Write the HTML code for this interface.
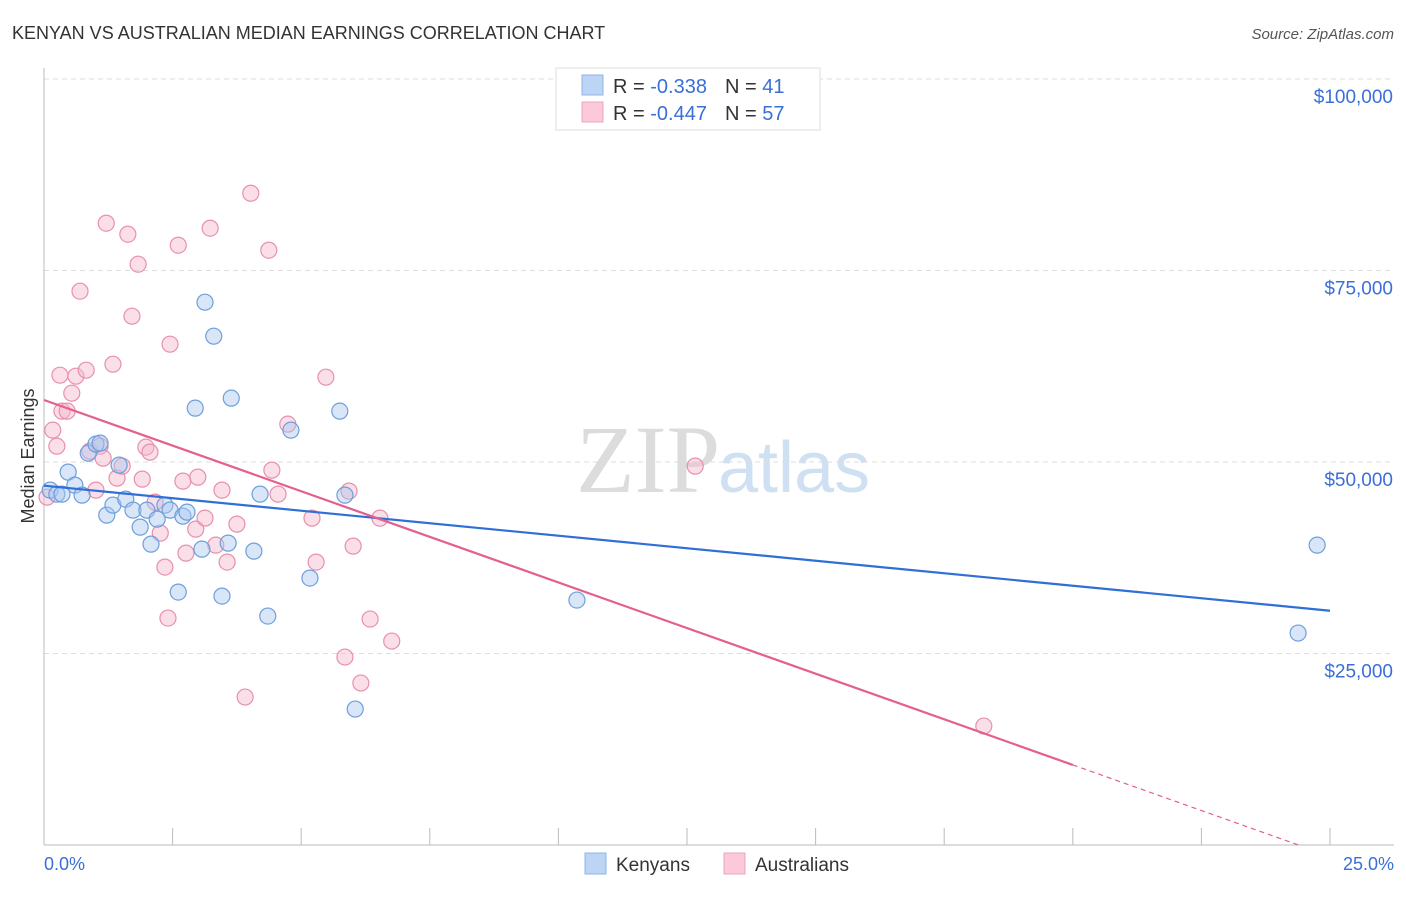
<!DOCTYPE html>
<html><head><meta charset="utf-8"><style>
body{margin:0;background:#fff;font-family:"Liberation Sans",sans-serif;}
</style></head><body>
<svg id="c" width="1406" height="892" xmlns="http://www.w3.org/2000/svg">
<text x="12" y="39" font-size="18" fill="#333">KENYAN VS AUSTRALIAN MEDIAN EARNINGS CORRELATION CHART</text>
<text x="1394" y="39" font-size="15" fill="#555" font-style="italic" text-anchor="end">Source: ZipAtlas.com</text>
<text x="720" y="492" font-size="96" fill="#dcdcdc" text-anchor="end" font-family="Liberation Serif">ZIP</text>
<text x="718" y="492" font-size="72" fill="#cfe0f3">atlas</text>
<g id="grid"></g>
<g id="pts"></g>
<g id="lines"></g>
<text transform="translate(34,456) rotate(-90)" font-size="18" fill="#333" text-anchor="middle">Median Earnings</text>
<text x="44" y="870" font-size="18" fill="#3a6fd8">0.0%</text>
<text x="1394" y="870" font-size="18" fill="#3a6fd8" text-anchor="end">25.0%</text>
<g>
<rect x="556" y="68" width="264" height="62" fill="#fff" stroke="#ddd"/>
<rect x="582" y="75" width="21" height="20" fill="#bcd5f5" stroke="#8cb4e8"/>
<rect x="582" y="102" width="21" height="20" fill="#fbc9d8" stroke="#efa3bb"/>
<text x="613" y="93" font-size="20" fill="#333">R = <tspan fill="#3a6fd8">-0.338</tspan><tspan dx="18">N = </tspan><tspan fill="#3a6fd8">41</tspan></text>
<text x="613" y="120" font-size="20" fill="#333">R = <tspan fill="#3a6fd8">-0.447</tspan><tspan dx="18">N = </tspan><tspan fill="#3a6fd8">57</tspan></text>
</g>
<g>
<rect x="585" y="853" width="21" height="21" fill="#bcd5f5" stroke="#8cb4e8"/>
<text x="616" y="871" font-size="19" fill="#333">Kenyans</text>
<rect x="724" y="853" width="21" height="21" fill="#fbc9d8" stroke="#efa3bb"/>
<text x="755" y="871" font-size="19" fill="#333">Australians</text>
</g>
</svg>
<script>
const yTicks=[25000,50000,75000,100000];
const yTickLabels=["$25,000","$50,000","$75,000","$100,000"];
const kenX=[0.12,0.25,0.35,0.47,0.60,0.74,0.86,1.01,1.09,1.22,1.34,1.46,1.59,1.73,1.87,2.00,2.08,2.20,2.35,2.45,2.61,2.70,2.78,2.94,3.07,3.13,3.30,3.46,3.58,3.64,4.08,4.20,4.35,4.80,5.17,5.75,5.85,6.05,10.36,24.38,24.75];
const kenY=[46328,45806,45806,48677,46980,45675,51156,52331,52461,43065,44370,49590,45153,43718,41499,43718,39281,42543,44370,43718,33017,42935,43457,57029,38628,70862,66425,32495,39411,58334,38367,45806,29885,54158,34844,56637,45675,17748,31973,27666,39150];
const ausX=[0.06,0.17,0.25,0.31,0.35,0.45,0.54,0.62,0.70,0.82,0.89,1.01,1.09,1.15,1.21,1.34,1.42,1.52,1.63,1.71,1.83,1.91,1.98,2.06,2.16,2.26,2.35,2.41,2.45,2.61,2.70,2.76,2.95,2.99,3.13,3.23,3.34,3.46,3.56,3.75,3.91,4.02,4.37,4.43,4.55,4.74,5.21,5.29,5.48,5.85,5.93,6.01,6.16,6.34,6.53,6.76,12.66,18.27];
const ausY=[45414,54158,52070,61335,56637,56637,58986,61205,72297,61988,51417,46328,52070,50504,81171,62771,47894,49460,79736,69035,75821,47763,51939,51287,44762,40716,36279,29624,65381,78300,47502,38106,41238,48024,42674,80519,39150,46328,36932,41891,19314,85086,77648,48938,45806,54941,42674,36932,61074,24534,46197,39020,21141,29493,42674,26622,49460,15530];
const NS="http://www.w3.org/2000/svg";
const xs=p=>44+p/25*1286;
const ys=v=>845-v/100000*766;
function mk(t,a,parent){const e=document.createElementNS(NS,t);for(const k in a)e.setAttribute(k,a[k]);parent.appendChild(e);return e;}
const grid=document.getElementById('grid');
yTicks.forEach((t,i)=>{
  const l=mk('line',{x1:44,x2:1394,y1:ys(t),y2:ys(t),stroke:'#ddd','stroke-dasharray':'5,4'},grid);
  
  
  const tx=mk('text',{x:1393,y:ys(t)+24,'font-size':19,fill:'#3a6fd8','text-anchor':'end'},grid);
  tx.textContent=yTickLabels[i];
  
  
});
mk('line',{x1:44,x2:44,y1:68,y2:845,stroke:'#bbb'},grid);
mk('line',{x1:44,x2:1394,y1:845,y2:845,stroke:'#bbb'},grid);
for(let i=0;i<=10;i++){const t=mk('line',{x1:xs(i*2.5),x2:xs(i*2.5),y1:828,y2:845,stroke:'#bbb'},grid);
  
  }
const pts=document.getElementById('pts');
function draw(X,Y,fill,stroke,name){X.forEach((x,i)=>{
  const c=mk('circle',{cx:xs(x),cy:ys(Y[i]),r:8,fill:fill,'fill-opacity':0.45,stroke:stroke,'stroke-width':1.2},pts);
  
  });}
draw(ausX,ausY,'#f5b8cb','#e890ad','australian-point');
draw(kenX,kenY,'#a9c8f0','#6f9fdc','kenyan-point');
function reg(X,Y){const n=X.length;let mx=0,my=0;X.forEach((x,i)=>{mx+=x;my+=Y[i]});mx/=n;my/=n;let sxy=0,sxx=0;X.forEach((x,i)=>{sxy+=(x-mx)*(Y[i]-my);sxx+=(x-mx)**2});const b=sxy/sxx;return [my-b*mx,b];}
const lines=document.getElementById('lines');
const [ka,kb]=reg(kenX,kenY);
const kl=mk('line',{x1:xs(0),y1:ys(ka),x2:xs(25),y2:ys(ka+kb*25),stroke:'#2f6fd6','stroke-width':2.2},lines);


const [aa,ab]=reg(ausX,ausY);
const al=mk('line',{x1:xs(0),y1:ys(aa),x2:xs(20),y2:ys(aa+ab*20),stroke:'#e4608c','stroke-width':2.2},lines);


let xe=Math.min(25,-aa/ab);
const ad=mk('line',{x1:xs(20),y1:ys(aa+ab*20),x2:xs(xe),y2:ys(aa+ab*xe),stroke:'#e4608c','stroke-width':1.2,'stroke-dasharray':'5,4'},lines);


</script>
</body></html>
